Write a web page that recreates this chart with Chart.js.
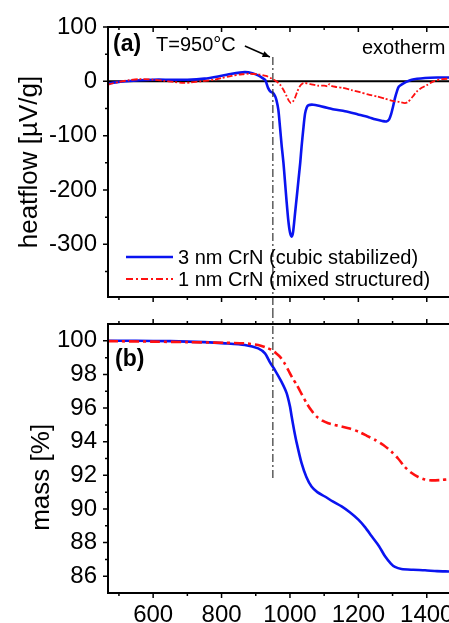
<!DOCTYPE html>
<html><head><meta charset="utf-8">
<script src="https://cdn.jsdelivr.net/npm/chart.js@4.4.0/dist/chart.umd.min.js"></script>
<style>
html,body{margin:0;padding:0;background:#fff;overflow:hidden}
canvas{display:block}
</style></head><body>
<canvas id="heat" width="449" height="310"></canvas>
<canvas id="mass" width="449" height="313"></canvas>
<script>
// ---- data ----
const xMin = 468, xMax = 1465;
const xTicks = [600, 800, 1000, 1200, 1400];
const xMinor = [500, 700, 900, 1100, 1300];
const markT = 950;

// (a) heatflow [µV/g]
const heatTicks = [100, 0, -100, -200, -300];
const heatMinor = [50, -50, -150, -250, -350];
const heatT3 = [468, 490, 520, 560, 600, 650, 700, 750, 790, 830, 868, 890, 907, 920, 928, 936, 943, 950, 957, 961, 966, 971, 976, 981, 985, 990, 995, 1000, 1005, 1009, 1015, 1020, 1025, 1030, 1034, 1039, 1044, 1049, 1054, 1068, 1090, 1111, 1130, 1161, 1199, 1230, 1249, 1270, 1282, 1290, 1296, 1302, 1307, 1313, 1318, 1326, 1340, 1356, 1395, 1430, 1465];
const heat3 = [-4, -2, 0, 2, 3, 3, 3, 5, 9, 14, 17, 15, 11, 6, 2, -12, -19, -21, -28, -36, -52, -85, -120, -150, -181, -220, -255, -278, -286, -278, -242, -212, -181, -150, -120, -88, -60, -48, -44, -43, -46, -49, -52, -55, -61, -66, -70, -73, -74, -70, -60, -45, -31, -18, -10, -6, -1, 3, 6, 7, 7];
const heatT1 = [468, 480, 500, 530, 560, 600, 630, 660, 690, 710, 740, 780, 800, 830, 860, 880, 907, 930, 947, 960, 971, 982, 990, 997, 1003, 1009, 1015, 1022, 1029, 1037, 1044, 1060, 1082, 1100, 1110, 1115, 1120, 1132, 1155, 1180, 1205, 1228, 1255, 1278, 1300, 1320, 1336, 1345, 1359, 1372, 1385, 1400, 1420, 1445, 1465];
const heat1 = [-6, -4, -1, 2, 4, 3, 1, -1, -3, -2, 0, 3, 6, 10, 13, 14, 13, 10, 5, 0, -6, -17, -27, -36, -40, -37, -30, -18, -9, -4, -3, -5, -8, -8, -9, -5, -8, -10, -12, -16, -20, -24, -28, -32, -36, -38, -40, -38, -28, -18, -12, -7, 0, 4, 5];

// (b) mass [%]
const massTicks = [86, 88, 90, 92, 94, 96, 98, 100];
const massMinor = [87, 89, 91, 93, 95, 97, 99];
const massT3 = [468, 550, 650, 750, 810, 868, 907, 927, 942, 956, 975, 990, 1000, 1005, 1012, 1020, 1034, 1048, 1063, 1080, 1102, 1125, 1151, 1175, 1200, 1220, 1239, 1260, 1278, 1295, 1307, 1326, 1360, 1395, 1430, 1465];
const mass3 = [100, 100, 99.98, 99.92, 99.85, 99.75, 99.55, 99.25, 98.7, 98.26, 97.57, 96.9, 96.1, 95.5, 94.7, 93.9, 92.72, 91.9, 91.33, 91.0, 90.74, 90.45, 90.15, 89.8, 89.36, 88.9, 88.37, 87.8, 87.18, 86.75, 86.55, 86.43, 86.38, 86.35, 86.3, 86.28];
const massT1 = [468, 600, 700, 810, 868, 907, 930, 947, 960, 971, 983, 995, 1007, 1020, 1035, 1049, 1063, 1078, 1095, 1112, 1130, 1151, 1175, 1200, 1225, 1249, 1273, 1297, 1316, 1336, 1355, 1375, 1395, 1414, 1440, 1465];
const mass1 = [99.98, 99.95, 99.92, 99.88, 99.85, 99.75, 99.6, 99.45, 99.25, 99.05, 98.7, 98.26, 97.8, 97.37, 96.8, 96.28, 95.85, 95.49, 95.25, 95.1, 95.0, 94.9, 94.78, 94.6, 94.35, 94.1, 93.8, 93.4, 93.0, 92.5, 92.15, 91.9, 91.75, 91.7, 91.72, 91.77];

const labels = ['3 nm CrN (cubic stabilized)', '1 nm CrN (mixed structured)'];

const BLUE = '#0a14f0', RED = '#ff1010';
const FONT = '"Liberation Sans", Arial, sans-serif';
Chart.defaults.font.family = FONT;
Chart.defaults.color = '#000';

const pairs = (xs, ys) => xs.map((x, i) => ({ x, y: ys[i] }));
const setTicks = list => scale => { scale.ticks = list.map(v => ({ value: v })); };

// frame, tick marks and text drawn on top of the plot
function frame(chart, o) {
  const { ctx, chartArea: a, scales: { x, y } } = chart;
  ctx.save();
  ctx.strokeStyle = '#000';
  ctx.lineWidth = 2;
  ctx.beginPath();
  ctx.moveTo(a.right + 2, a.top); ctx.lineTo(a.left, a.top);
  ctx.lineTo(a.left, a.bottom); ctx.lineTo(a.right + 2, a.bottom);
  ctx.stroke();
  ctx.lineWidth = 1.5;
  ctx.beginPath();
  const vt = (v, len) => {
    const px = x.getPixelForValue(v);
    ctx.moveTo(px, a.top); ctx.lineTo(px, a.top + (o.topIn ? len : -len));
    ctx.moveTo(px, a.bottom); ctx.lineTo(px, a.bottom + len);
  };
  xTicks.forEach(v => vt(v, 5));
  xMinor.forEach(v => vt(v, 3));
  const ht = (v, len) => {
    const py = y.getPixelForValue(v);
    ctx.moveTo(a.left, py); ctx.lineTo(a.left - len, py);
  };
  o.yTicks.forEach(v => ht(v, 5));
  o.yMinor.forEach(v => ht(v, 3));
  ctx.stroke();
  // axis title
  ctx.fillStyle = '#000';
  ctx.font = '26px ' + FONT;
  ctx.textAlign = 'center';
  ctx.textBaseline = 'middle';
  ctx.translate(o.titleX, a.top + (a.bottom - a.top) * o.titleFrac);
  ctx.rotate(-Math.PI / 2);
  ctx.fillText(o.title, 0, 0);
  ctx.restore();
}

function markLine(chart, yFrom, yTo) {
  const { ctx, scales: { x } } = chart;
  const px = x.getPixelForValue(markT);
  ctx.save();
  ctx.strokeStyle = '#333';
  ctx.lineWidth = 1.2;
  ctx.setLineDash([8, 3, 2, 3]);
  ctx.beginPath(); ctx.moveTo(px, yFrom); ctx.lineTo(px, yTo); ctx.stroke();
  ctx.restore();
}

const heatPlugin = {
  id: 'heatDeco',
  beforeDatasetsDraw(chart) {
    const { ctx, chartArea: a, scales: { y } } = chart;
    const py = y.getPixelForValue(0);
    ctx.save();
    ctx.strokeStyle = '#000'; ctx.lineWidth = 2;
    ctx.beginPath(); ctx.moveTo(a.left, py); ctx.lineTo(a.right, py); ctx.stroke();
    ctx.restore();
  },
  afterDatasetsDraw(chart) {
    const { ctx, chartArea: a, scales: { x, y } } = chart;
    markLine(chart, y.getPixelForValue(45), chart.height);
    frame(chart, { topIn: true, yTicks: heatTicks, yMinor: heatMinor, title: 'heatflow [µV/g]', titleX: 30, titleFrac: 0.5 });
    ctx.save();
    ctx.fillStyle = '#000';
    ctx.textBaseline = 'middle';
    ctx.font = 'bold 23px ' + FONT;
    ctx.fillText('(a)', a.left + 5, 45);
    ctx.font = '20px ' + FONT;
    ctx.fillText('T=950°C', a.left + 48, 45);
    ctx.fillText('exotherm', a.left + 254, 48);
    // arrow to the 950 °C line
    const tx = x.getPixelForValue(markT) - 3, ty = 57;
    const sx = tx - 25, sy = 46;
    ctx.strokeStyle = '#000'; ctx.lineWidth = 1.5;
    ctx.beginPath(); ctx.moveTo(sx, sy); ctx.lineTo(tx, ty); ctx.stroke();
    const ang = Math.atan2(ty - sy, tx - sx);
    ctx.beginPath();
    ctx.moveTo(tx, ty);
    ctx.lineTo(tx - 8 * Math.cos(ang - 0.4), ty - 8 * Math.sin(ang - 0.4));
    ctx.lineTo(tx - 8 * Math.cos(ang + 0.4), ty - 8 * Math.sin(ang + 0.4));
    ctx.closePath(); ctx.fill();
    // legend
    const rows = [
      { ds: chart.data.datasets[0], y: 257 },
      { ds: chart.data.datasets[1], y: 279 }
    ];
    ctx.font = '20px ' + FONT;
    rows.forEach((r, i) => {
      ctx.strokeStyle = r.ds.borderColor;
      ctx.lineWidth = i === 0 ? 2.5 : 2;
      ctx.setLineDash(i === 0 ? [] : [7, 3, 2, 3]);
      ctx.beginPath(); ctx.moveTo(a.left + 18, r.y); ctx.lineTo(a.left + 65, r.y); ctx.stroke();
      ctx.fillText(r.ds.label, a.left + 70, r.y + 1);
    });
    ctx.restore();
  }
};

const massPlugin = {
  id: 'massDeco',
  afterDatasetsDraw(chart) {
    const { ctx, chartArea: a, scales: { y } } = chart;
    markLine(chart, 0, y.getPixelForValue(91.8));
    frame(chart, { topIn: false, yTicks: massTicks, yMinor: massMinor, title: 'mass [%]', titleX: 42, titleFrac: 0.57 });
    ctx.save();
    ctx.fillStyle = '#000';
    ctx.textBaseline = 'middle';
    ctx.font = 'bold 23px ' + FONT;
    ctx.fillText('(b)', a.left + 7, 50);
    ctx.restore();
  }
};

const yAxis = (min, max, ticks) => ({
  type: 'linear', min, max,
  afterBuildTicks: setTicks(ticks),
  afterFit: s => { s.width = 108; s.paddingTop = 0; s.paddingBottom = 0; },
  grid: { display: false, drawTicks: false },
  border: { display: false },
  ticks: { padding: 11, font: { size: 24 }, callback: v => String(v) }
});

new Chart(document.getElementById('heat'), {
  type: 'line',
  data: {
    datasets: [
      { label: labels[0], data: pairs(heatT3, heat3), borderColor: BLUE, borderWidth: 2.6, order: 2 },
      { label: labels[1], data: pairs(heatT1, heat1), borderColor: RED, borderWidth: 1.8, borderDash: [6, 2, 2, 2], order: 1 }
    ]
  },
  options: {
    responsive: false, animation: false, devicePixelRatio: 1,
    parsing: false,
    elements: { point: { radius: 0 }, line: { tension: 0.25 } },
    layout: { autoPadding: false, padding: { top: 27, bottom: 13, left: 0, right: 0 } },
    plugins: { legend: { display: false }, tooltip: { enabled: false } },
    scales: {
      x: { type: 'linear', min: xMin, max: xMax, display: false },
      y: yAxis(-397, 100, heatTicks)
    }
  },
  plugins: [heatPlugin]
});

new Chart(document.getElementById('mass'), {
  type: 'line',
  data: {
    datasets: [
      { label: labels[0], data: pairs(massT3, mass3), borderColor: BLUE, borderWidth: 2.6, order: 2 },
      { label: labels[1], data: pairs(massT1, mass1), borderColor: RED, borderWidth: 2.6, borderDash: [10, 4, 3, 4], order: 1 }
    ]
  },
  options: {
    responsive: false, animation: false, devicePixelRatio: 1,
    parsing: false,
    elements: { point: { radius: 0 }, line: { tension: 0.25 } },
    layout: { autoPadding: false, padding: { top: 14, bottom: 0, left: 0, right: 0 } },
    plugins: { legend: { display: false }, tooltip: { enabled: false } },
    scales: {
      x: {
        type: 'linear', min: xMin, max: xMax,
        afterBuildTicks: setTicks(xTicks),
        afterFit: s => { s.height = 30; s.paddingLeft = 0; s.paddingRight = 0; },
        grid: { display: false, drawTicks: false },
        border: { display: false },
        ticks: { padding: 8, font: { size: 24 }, maxRotation: 0, autoSkip: false, callback: v => String(v) }
      },
      y: yAxis(85, 101, massTicks)
    }
  },
  plugins: [massPlugin]
});
</script>
</body></html>
